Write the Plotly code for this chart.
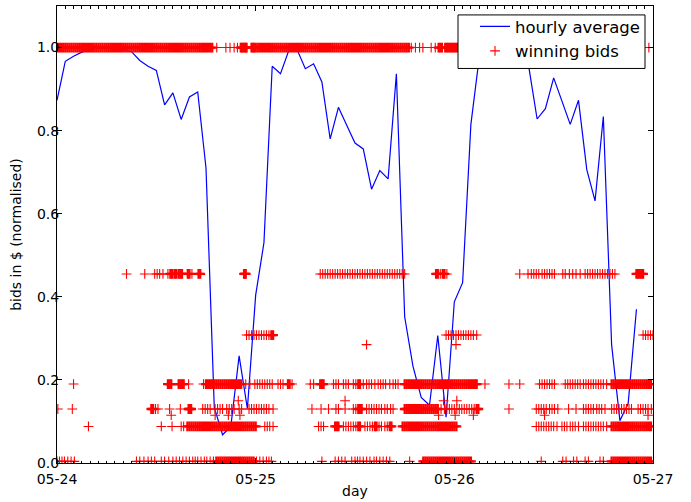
import pandas as pd
import plotly.graph_objects as go

# Start of the observation window; every time below is in hours from here.
START = pd.Timestamp("2013-05-24 00:00")

# Hourly mean of the normalised winning bid (one value per hour, hour 0..70).
avg_hours = list(range(71))
avg_values = [
    0.873, 0.967, 0.979, 0.989, 0.995, 1.0, 1.0, 0.998, 0.995, 0.99,
    0.969, 0.955, 0.945, 0.862, 0.891, 0.827, 0.881, 0.893, 0.710, 0.134,
    0.068, 0.088, 0.258, 0.131, 0.404, 0.53, 0.955, 0.937, 0.993, 0.995,
    0.949, 0.961, 0.917, 0.780, 0.856, 0.813, 0.770, 0.756, 0.659, 0.704,
    0.684, 0.937, 0.352, 0.233, 0.158, 0.139, 0.307, 0.110, 0.388, 0.434,
    0.815, 0.975, 1.0, 1.0, 0.995, 0.99, 0.98, 0.953, 0.828, 0.853,
    0.927, 0.87, 0.815, 0.873, 0.706, 0.631, 0.834, 0.285, 0.102, 0.143, 0.37,
]

# Individual winning bids, grouped by their (normalised) price level.
bid_level_100 = 1.0
bid_hours_100 = [
    0.0, 0.25, 0.5, 0.75, 1.0, 1.25, 1.5, 1.75, 2.0, 2.25, 2.5, 2.75, 3.0, 3.25, 3.5, 3.75,
    4.0, 4.25, 4.5, 4.75, 5.0, 5.25, 5.5, 5.75, 6.0, 6.25, 6.5, 6.75, 7.0, 7.25, 7.5, 7.75,
    8.0, 8.25, 8.5, 8.75, 9.0, 9.25, 9.5, 9.75, 10.0, 10.25, 10.5, 10.75, 11.0, 11.25, 11.5,
    11.75, 12.0, 12.25, 12.5, 12.75, 13.0, 13.25, 13.5, 13.75, 14.0, 14.25, 14.5, 14.75,
    15.0, 15.25, 15.5, 15.75, 16.0, 16.25, 16.5, 16.75, 17.0, 17.25, 17.5, 17.75, 18.0,
    18.25, 18.5, 18.75,
    19.3, 20.4, 20.9, 21.4, 21.8, 22.2, 22.35, 22.5, 22.65, 22.8, 22.9, 23.5, 23.65, 23.8,
    24.0, 24.25, 24.5, 24.75, 25.0, 25.25, 25.5, 25.75, 26.0, 26.25, 26.5, 26.75, 27.0,
    27.25, 27.5, 27.75, 28.0, 28.25, 28.5, 28.75, 29.0, 29.25, 29.5, 29.75, 30.0, 30.25,
    30.5, 30.75, 31.0, 31.25, 31.5, 31.75, 32.0, 32.25, 32.5, 32.75, 33.0, 33.25, 33.5,
    33.75, 34.0, 34.25, 34.5, 34.75, 35.0, 35.25, 35.5, 35.75, 36.0, 36.25, 36.5, 36.75,
    37.0, 37.25, 37.5, 37.75, 38.0, 38.25, 38.5, 38.75, 39.0, 39.25, 39.5, 39.75, 40.0,
    40.25, 40.5, 40.75, 41.0, 41.25, 41.5, 41.75, 42.0, 42.25, 42.5,
    42.8, 43.3, 43.8, 44.2, 45.2, 45.7, 46.1, 46.3, 46.5, 46.9, 47.1, 47.3, 47.5, 47.7, 47.9,
    48.1, 48.3,
    49.0, 49.8, 50.6, 51.4, 52.2, 53.0, 53.8, 54.6, 55.4, 56.2, 57.0, 57.8, 58.6, 59.4, 60.2,
    61.0, 61.8, 62.6, 63.4, 64.2, 65.0, 65.8, 66.6, 67.4, 68.2, 69.0, 69.8, 70.4,
    71.5,
]

bid_level_455 = 0.455
bid_hours_455 = [
    8.4, 10.6, 11.8, 12.1, 12.4, 12.8, 13.4, 13.7, 13.9, 14.2, 14.4, 14.7, 14.9, 15.1,
    15.8, 16.0, 16.3, 17.1, 17.3, 22.6, 22.7, 22.8,
    31.8, 32.1, 32.4, 32.7, 33.0, 33.3, 33.6, 33.9, 34.2, 34.5, 34.8, 35.1, 35.4, 35.7,
    36.0, 36.3, 36.6, 36.9, 37.2, 37.5, 37.8, 38.1, 38.4, 38.7, 39.0, 39.3, 39.6, 39.9,
    40.2, 40.5, 40.8, 41.1, 41.4, 41.7, 42.0,
    45.8, 46.0, 46.3, 46.6, 46.8, 47.1,
    55.9, 56.9, 57.3, 57.6, 57.9, 58.2, 58.6, 58.9, 59.2, 59.5, 59.8, 60.1,
    61.1, 61.4, 61.9, 62.3, 62.7, 63.2, 63.8, 64.1, 64.4, 64.7, 65.0, 65.3, 65.6, 65.9,
    66.2, 66.5, 66.8, 67.1, 67.4, 70.0, 70.2, 70.4, 70.6, 70.8,
]

bid_level_308 = 0.308
bid_hours_308 = [
    22.9, 23.2, 23.5, 23.8, 24.1, 24.4, 24.7, 25.0, 25.3, 25.6, 25.9, 26.1,
    47.0, 47.3, 47.6, 47.9, 48.2, 48.5, 48.8, 49.1, 49.4, 49.7, 50.0, 50.3, 50.7,
    70.8, 71.1, 71.4, 71.7, 72.0,
]

bid_level_285 = 0.285
bid_hours_285 = [37.4, 48.2]

bid_level_190 = 0.19
bid_hours_190 = [
    2.0, 13.4, 13.6, 13.8, 14.7, 14.9, 15.1, 15.3, 15.9, 17.7,
    18.0, 18.25, 18.5, 18.75, 19.0, 19.25, 19.5, 19.75, 20.0, 20.25, 20.5, 20.75, 21.0,
    21.25, 21.5, 21.75, 22.0, 22.25,
    22.8, 23.3, 23.9, 24.2, 24.5, 24.8, 25.1, 25.4, 25.7, 26.0, 26.7, 27.0, 27.3,
    27.9, 28.1, 28.4, 30.6, 31.0, 31.8, 32.0, 32.2, 33.4, 33.7, 34.0, 34.6, 34.9, 35.2,
    35.8, 36.1, 36.4, 36.6, 37.0, 37.4, 37.7, 38.0, 38.4, 38.8, 39.1, 39.4, 39.7,
    40.2, 40.6, 40.9, 41.2,
    42.0, 42.25, 42.5, 42.75, 43.0, 43.25, 43.5, 43.75, 44.0, 44.25, 44.5, 44.75, 45.0,
    45.25, 45.5, 45.75, 46.0, 46.25, 46.5, 46.75, 47.0, 47.25, 47.5, 47.75, 48.0, 48.25,
    48.5, 48.75, 49.0, 49.25, 49.5, 49.75, 50.0, 50.25, 50.5, 50.7,
    51.7, 54.6, 55.9,
    58.3, 58.6, 58.9, 59.2, 59.5, 59.8, 60.1, 61.4, 61.7, 62.0, 62.3, 62.6, 62.9, 63.2,
    63.6, 63.9, 64.2, 64.5, 64.8, 65.1, 65.4, 65.7, 66.0, 66.4,
    67.0, 67.25, 67.5, 67.75, 68.0, 68.25, 68.5, 68.75, 69.0, 69.25, 69.5, 69.75, 70.0,
    70.25, 70.5, 70.75, 71.0, 71.25, 71.5, 71.75,
]

bid_level_150 = 0.15
bid_hours_150 = [21.9, 34.8, 46.7, 48.3]

bid_level_130 = 0.13
bid_hours_130 = [
    0.1, 1.85, 11.4, 11.6, 11.9, 12.2, 13.6, 14.9, 15.9, 16.0, 16.2, 17.6, 17.9, 18.2, 18.5,
    19.1, 19.4, 19.7, 20.0, 20.5, 20.8, 21.1, 21.4, 22.0, 22.3,
    23.2, 23.5, 23.8, 24.1, 24.4, 24.7, 25.0, 25.3, 25.6, 26.1,
    30.8, 31.9, 32.8, 33.7, 34.0, 34.8, 35.8, 36.1, 36.4, 36.6, 36.8,
    37.4, 37.7, 38.0, 38.3, 38.6, 38.9, 39.2, 39.6, 39.9, 40.3, 40.6,
    42.0, 42.25, 42.5, 42.75, 43.0, 43.25, 43.5, 43.75, 44.0, 44.25, 44.5, 44.75, 45.0,
    45.25, 45.5, 45.75, 46.0, 46.4, 46.8, 47.1, 47.4, 47.7, 48.0, 48.3, 48.6, 48.9, 49.2,
    49.5, 49.8, 50.1, 50.4, 50.7, 50.9, 54.6,
    57.9, 58.2, 58.5, 58.8, 59.1, 59.5, 59.8, 60.1, 60.5, 61.8, 62.7,
    63.6, 63.9, 64.2, 64.5, 64.8, 65.2, 65.5, 65.8, 66.2,
    67.0, 67.3, 67.6, 67.9, 68.2, 68.5, 68.8, 69.1, 69.4, 70.2, 70.5, 70.8, 71.1, 71.4, 71.8,
]

bid_level_115 = 0.115
bid_hours_115 = [13.8, 19.1, 20.7, 22.1, 46.1, 48.1, 50.3, 58.9, 71.4]

bid_level_088 = 0.088
bid_hours_088 = [
    3.8, 12.6, 13.9, 15.0, 15.3,
    15.75, 16.0, 16.25, 16.5, 16.75, 17.0, 17.25, 17.5, 17.75, 18.0, 18.25, 18.5, 18.75,
    19.0, 19.25, 19.5, 19.75, 20.0, 20.25, 20.5, 20.75, 21.0, 21.25, 21.5, 21.75, 22.0,
    22.25, 22.5, 22.75, 23.0, 23.25, 23.5, 23.75, 24.0,
    25.1, 25.4, 25.7, 26.1,
    31.6, 31.9, 32.2, 33.6, 33.8, 34.0, 34.6, 34.9, 35.2, 35.5, 35.8, 36.1, 36.4, 36.6,
    37.2, 37.5, 37.8, 38.1, 38.4, 38.6, 38.9, 39.2, 39.6, 39.9, 40.2, 40.4,
    41.75, 42.0, 42.25, 42.5, 42.75, 43.0, 43.25, 43.5, 43.75, 44.0, 44.25, 44.5, 44.75,
    45.0, 45.25, 45.5, 45.75, 46.0, 46.25, 46.5, 46.75, 47.0, 47.25, 47.5, 47.75, 48.0,
    48.25,
    57.9, 58.2, 58.5, 58.8, 59.1, 59.4, 59.7, 60.0, 60.4, 61.0, 61.3, 61.6, 62.0, 62.3,
    62.6, 63.0, 63.6, 63.9, 64.2, 64.5, 64.8, 65.1, 65.4, 65.7, 66.0, 66.4,
    67.0, 67.25, 67.5, 67.75, 68.0, 68.25, 68.5, 68.75, 69.0, 69.25, 69.5, 69.75, 70.0,
    70.25, 70.5, 70.75, 71.0, 71.25, 71.5, 71.75,
]

bid_level_000 = 0.004
bid_hours_000 = [
    0.0, 0.3, 0.6, 0.9, 1.3, 1.7, 2.1, 9.6, 10.0, 10.5, 11.0, 11.4, 11.8,
    12.6, 13.0, 13.5, 14.0, 14.4, 14.8, 15.2, 15.6, 16.0, 16.4, 16.7, 17.0, 17.4, 17.8,
    18.1, 18.5, 18.9, 19.25, 19.5, 19.75, 20.0, 20.25, 20.5, 20.75, 21.0, 21.25, 21.5,
    21.75, 22.0, 22.25, 22.5, 22.75, 23.0, 23.25, 23.5, 23.75, 24.1, 24.5, 24.9, 25.3,
    25.6, 25.9,
    32.0, 33.6, 34.0, 34.4, 34.8, 35.6, 36.0, 36.3, 36.6, 37.0, 37.4, 37.8, 38.3, 38.6,
    39.0, 39.4, 39.8, 40.2, 42.6,
    44.25, 44.5, 44.75, 45.0, 45.25, 45.5, 45.75, 46.0, 46.25, 46.5, 46.75, 47.0, 47.25,
    47.5, 47.75, 48.0, 48.25, 48.5, 48.75, 49.0, 49.25, 49.5, 49.75, 50.0,
    58.5, 61.1, 61.5, 62.4, 62.8, 63.8, 64.2, 65.6, 66.0,
    67.0, 67.25, 67.5, 67.75, 68.0, 68.25, 68.5, 68.75, 69.0, 69.25, 69.5, 69.75, 70.0,
    70.25, 70.5, 70.75, 71.0, 71.25, 71.5, 71.75,
]

bid_groups = [
    (bid_level_100, bid_hours_100),
    (bid_level_455, bid_hours_455),
    (bid_level_308, bid_hours_308),
    (bid_level_285, bid_hours_285),
    (bid_level_190, bid_hours_190),
    (bid_level_150, bid_hours_150),
    (bid_level_130, bid_hours_130),
    (bid_level_115, bid_hours_115),
    (bid_level_088, bid_hours_088),
    (bid_level_000, bid_hours_000),
]


def to_time(hours):
    return [START + pd.Timedelta(hours=h) for h in hours]


# Crosses packed closely together merge into a solid band; give those a
# heavier stroke so the runs render as continuous bars.
THIN, HEAVY = 1.1, 2.3
bid_x, bid_y, bid_w = [], [], []
for level, hours in bid_groups:
    hs = sorted(hours)
    for i, h in enumerate(hs):
        gaps = []
        if i > 0:
            gaps.append(h - hs[i - 1])
        if i < len(hs) - 1:
            gaps.append(hs[i + 1] - h)
        bid_w.append(HEAVY if gaps and min(gaps) <= 0.26 else THIN)
    bid_x.extend(to_time(hs))
    bid_y.extend([level] * len(hs))

FONT = "DejaVu Sans, Verdana, sans-serif"
RED = "#ff0000"

# Plot-area geometry in pixels (used to place the legend frame).
W, H = 691, 502
M_L, M_R, M_T, M_B = 57, 38, 5, 36
PLOT_W = W - M_L - M_R
PLOT_H = H - M_T - M_B


def px_to_paper_x(px):
    return (px - M_L) / PLOT_W


def px_to_paper_y(py):
    return (H - M_B - py) / PLOT_H


fig = go.Figure()
fig.add_trace(go.Scatter(
    x=to_time(avg_hours), y=avg_values, mode="lines", name="hourly average",
    line=dict(color="#0000ff", width=1.2),
))
fig.add_trace(go.Scatter(
    x=bid_x, y=bid_y, mode="markers", name="winning bids", showlegend=False,
    marker=dict(symbol="cross-thin", size=7, color=RED,
                line=dict(color=RED, width=bid_w)),
))
# Legend entry for the bids, drawn with a plain thin cross.
fig.add_trace(go.Scatter(
    x=[None], y=[None], mode="markers", name="winning bids",
    marker=dict(symbol="cross-thin", size=7, color=RED,
                line=dict(color=RED, width=THIN)),
))

axis_common = dict(
    showline=True, linecolor="black", linewidth=1, mirror="allticks",
    ticks="inside", tickcolor="black", ticklen=5, tickwidth=1,
    showgrid=False, zeroline=False,
    tickfont=dict(family=FONT, size=14, color="black"),
)

# Legend frame: white box with a black border over the data.
fig.add_shape(
    type="rect", xref="paper", yref="paper", layer="above",
    x0=px_to_paper_x(458), x1=px_to_paper_x(645),
    y0=px_to_paper_y(68), y1=px_to_paper_y(14),
    fillcolor="white", line=dict(color="black", width=1),
)

fig.update_layout(
    width=W, height=H,
    margin=dict(l=M_L, r=M_R, t=M_T, b=M_B),
    paper_bgcolor="white", plot_bgcolor="white",
    font=dict(family=FONT, size=14, color="black"),
    xaxis=dict(
        **axis_common,
        type="date",
        range=[START, START + pd.Timedelta(days=3)],
        tick0=START, dtick=86400000, tickformat="%m-%d",
        minor=dict(dtick=3600000, ticks="inside", ticklen=2.5, tickcolor="black"),
        ticklabelstandoff=3,
        title=dict(text="day", font=dict(family=FONT, size=14), standoff=0),
    ),
    yaxis=dict(
        **axis_common,
        range=[0, 1.1], dtick=0.2, tick0=0, tickformat=".1f",
        ticklabelstandoff=-6,
        title=dict(text="bids in $ (normalised)", font=dict(family=FONT, size=14), standoff=12),
    ),
    legend=dict(
        x=0.9866, xanchor="right", y=0.993, yanchor="top",
        bgcolor="rgba(0,0,0,0)", borderwidth=0, tracegroupgap=0,
        font=dict(family=FONT, size=16.5), itemwidth=30,
    ),
    showlegend=True,
)

fig.write_html("out.html")
